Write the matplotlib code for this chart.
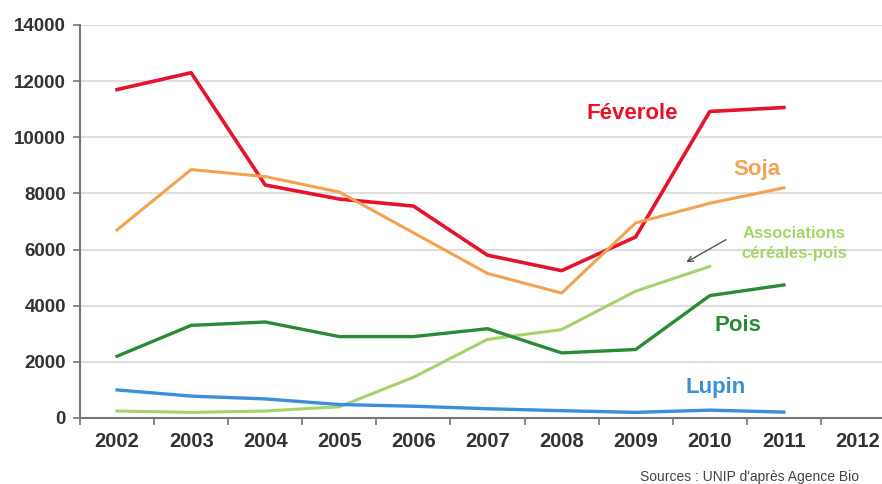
import matplotlib.pyplot as plt
from matplotlib.ticker import FixedLocator

plt.rcParams['font.family'] = ['Liberation Sans', 'DejaVu Sans']

annees = ['2002', '2003', '2004', '2005', '2006', '2007', '2008', '2009', '2010', '2011', '2012']
feverole = [11700, 12300, 8300, 7800, 7550, 5800, 5250, 6450, 10920, 11060]
soja = [6700, 8850, 8600, 8050, 6600, 5150, 4450, 6950, 7650, 8200]
associations = [250, 200, 250, 400, 1450, 2800, 3150, 4520, 5400]
pois = [2200, 3300, 3420, 2900, 2900, 3180, 2320, 2440, 4360, 4740]
lupin = [1000, 780, 680, 480, 420, 330, 260, 200, 280, 210]

fig = plt.figure(figsize=(8.82, 4.84), dpi=100)
ax = fig.add_axes([80 / 882, 1 - 418 / 484, 815 / 882, 393 / 484])

ax.plot(range(len(feverole)), feverole, color='#e3142c', lw=2.6)
ax.plot(range(len(soja)), soja, color='#f4a252', lw=2.2)
ax.plot(range(len(associations)), associations, color='#a5d46a', lw=2.2)
ax.plot(range(len(pois)), pois, color='#2a8a36', lw=2.4)
ax.plot(range(len(lupin)), lupin, color='#3b8fd6', lw=2.4)

ax.set_xlim(-0.5, 10.5)
ax.set_ylim(0, 14000)
ax.set_yticks(range(0, 14001, 2000))
ax.set_xticks(range(len(annees)))
ax.set_xticklabels(annees)
ax.xaxis.set_minor_locator(FixedLocator([i + 0.5 for i in range(-1, 11)]))
ax.tick_params(axis='x', which='major', length=0, pad=10, labelsize=14.5, labelcolor='#333333')
ax.tick_params(axis='x', which='minor', length=5, width=1.2, color='#777777', direction='out')
ax.tick_params(axis='y', length=5, width=1.2, color='#777777', labelsize=13.5, labelcolor='#333333', pad=5)
for lab in ax.get_xticklabels() + ax.get_yticklabels():
    lab.set_fontweight('bold')

ax.grid(axis='y', color='#dedede', lw=1.5)
ax.set_axisbelow(True)
for s in ['top', 'right']:
    ax.spines[s].set_visible(False)
for s in ['left', 'bottom']:
    ax.spines[s].set_color('#777777')
    ax.spines[s].set_linewidth(1.5)

ax.text(6.95, 10850, 'Féverole', color='#e3142c', fontsize=16, fontweight='bold', ha='center', va='center')
ax.text(8.64, 8850, 'Soja', color='#f4a252', fontsize=16, fontweight='bold', ha='center', va='center')
ax.text(9.14, 6220, 'Associations\ncéréales-pois', color='#a5d46a', fontsize=12, fontweight='bold',
        ha='center', va='center', linespacing=1.45)
ax.text(8.38, 3300, 'Pois', color='#2a8a36', fontsize=16, fontweight='bold', ha='center', va='center')
ax.text(8.08, 1100, 'Lupin', color='#3b8fd6', fontsize=16, fontweight='bold', ha='center', va='center')
ax.annotate('', xy=(7.65, 5500), xytext=(8.25, 6400),
            arrowprops=dict(arrowstyle='->', color='#555555', lw=1))

fig.text(750 / 882, 1 - 477 / 484, "Sources : UNIP d'après Agence Bio", fontsize=10, color='#444444',
         ha='center', va='center')

fig.savefig('out.png', dpi=100)
